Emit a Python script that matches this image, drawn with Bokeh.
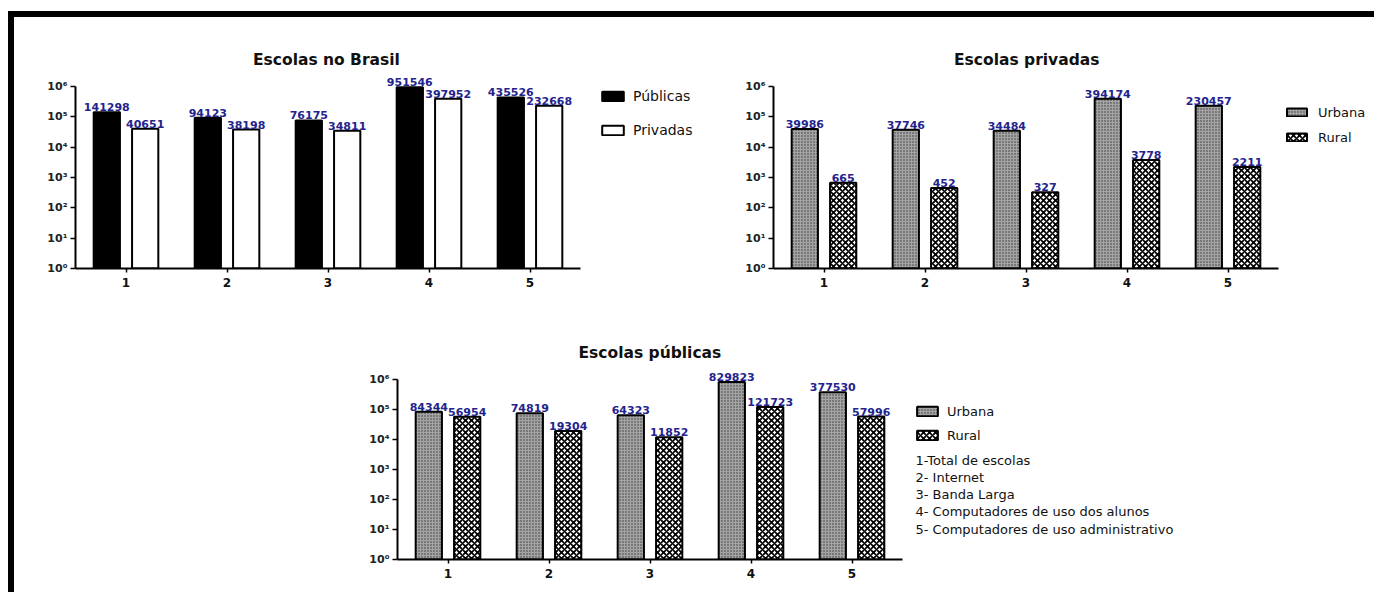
from bokeh.plotting import figure
from bokeh.models import (Range1d, FixedTicker, Legend, LegendItem, Label, Div, Spacer,
                          ColumnDataSource)
from bokeh.layouts import row, column
from bokeh.core.properties import value
from bokeh.embed import file_html
from bokeh.resources import INLINE

# ---------------- data ----------------
categories = [1, 2, 3, 4, 5]
category_labels = ["1", "2", "3", "4", "5"]
y_ticks = [1, 10, 100, 1000, 10000, 100000, 1000000]
y_tick_labels = ["10⁰", "10¹", "10²", "10³", "10⁴", "10⁵", "10⁶"]

brasil_publicas = [141298, 94123, 76175, 951546, 435526]
brasil_privadas = [40651, 38198, 34811, 397952, 232668]
privadas_urbana = [39986, 37746, 34484, 394174, 230457]
privadas_rural = [665, 452, 327, 3778, 2211]
publicas_urbana = [84344, 74819, 64323, 829823, 377530]
publicas_rural = [56954, 19304, 11852, 121723, 57996]

notes = ["1-Total de escolas", "2- Internet", "3- Banda Larga",
         "4- Computadores de uso dos alunos", "5- Computadores de uso administrativo"]

FONT = "DejaVu Sans"
LABEL_COLOR = "#23238e"
BAR_W = 0.26
OFF = 0.19
DATA_W = 505  # pixels spanned by the five categories (0.5 .. 5.5)

STYLE = {
    "black": dict(fill_color="black"),
    "white": dict(fill_color="white"),
    "urbana": dict(fill_color="#a4a4a4", hatch_pattern="dot", hatch_scale=3,
                   hatch_weight=1, hatch_color="#383838"),
    "rural": dict(fill_color="white", hatch_pattern="diagonal_cross", hatch_scale=6,
                  hatch_weight=1.7, hatch_color="black"),
}


def make_chart(title, title_w, a_vals, b_vals, names, styles, width, height, borders,
               data_h, leg, font_leg):
    mbl, mbr, mbt, mbb = borders
    frame_w = width - mbl - mbr
    frame_h = height - mbt - mbb
    x_end = 0.5 + 5.0 * frame_w / DATA_W
    y_end = 10 ** (6.0 * frame_h / data_h)
    p = figure(width=width, height=height, y_axis_type="log",
               x_range=Range1d(0.5, x_end), y_range=Range1d(1, y_end),
               output_backend="svg", toolbar_location=None,
               min_border_left=mbl, min_border_right=mbr,
               min_border_top=mbt, min_border_bottom=mbb)
    p.outline_line_color = None
    p.xgrid.visible = False
    p.ygrid.visible = False
    p.background_fill_color = "white"
    p.border_fill_color = "white"

    p.title.text = title
    p.title.align = "left"
    p.title.offset = DATA_W / 2 - title_w / 2
    p.title.text_font = FONT
    p.title.text_font_style = "bold"
    p.title.text_font_size = "15.5px"
    p.title.text_color = "#111111"
    p.title.standoff = 0

    renderers = []
    for vals, off, st in ((a_vals, -OFF, styles[0]), (b_vals, OFF, styles[1])):
        src = ColumnDataSource(dict(x=[c + off for c in categories], top=vals,
                                    txt=[str(v) for v in vals]))
        r = p.vbar(x="x", top="top", bottom=1, width=BAR_W, source=src,
                   line_color="black", line_width=2, **STYLE[st])
        renderers.append(r)
        p.text(x="x", y="top", text="txt", source=src, text_align="center",
               text_baseline="alphabetic", y_offset=-5,
               text_font=value(FONT), text_font_style="bold",
               text_font_size="11px", text_color=LABEL_COLOR)

    # axes
    for ax in (p.xaxis[0], p.yaxis[0]):
        ax.axis_line_color = "black"
        ax.axis_line_width = 2
        ax.major_tick_line_color = "black"
        ax.major_tick_line_width = 1.5
        ax.major_tick_in = 0
        ax.minor_tick_line_color = None
        ax.major_label_text_font = FONT
        ax.major_label_text_font_style = "bold"
    p.xaxis.bounds = (0.5, 5.5)
    p.xaxis.ticker = FixedTicker(ticks=categories, minor_ticks=[])
    p.xaxis.major_label_overrides = {c: l for c, l in zip(categories, category_labels)}
    p.xaxis.major_tick_out = 4
    p.xaxis.major_label_text_font_size = "12px"
    p.xaxis.major_label_text_color = "#111111"
    p.xaxis.major_label_standoff = 5

    p.yaxis.bounds = (1, 1e6)
    p.yaxis.ticker = FixedTicker(ticks=y_ticks, minor_ticks=[])
    p.yaxis.major_label_overrides = {t: l for t, l in zip(y_ticks, y_tick_labels)}
    p.yaxis.major_tick_out = 5
    p.yaxis.major_label_text_font_size = "11px"
    p.yaxis.major_label_text_color = "#222222"
    p.yaxis.major_label_standoff = 3

    loc, gw, gh, lh, sp, so = leg
    legend = Legend(items=[LegendItem(label=names[0], renderers=[renderers[0]]),
                           LegendItem(label=names[1], renderers=[renderers[1]])],
                    location=loc, orientation="vertical", padding=0, margin=0,
                    spacing=sp, glyph_width=gw, glyph_height=gh, label_height=lh,
                    label_standoff=so, label_text_font=FONT,
                    label_text_font_size=font_leg, label_text_color="#111111",
                    border_line_color=None, background_fill_alpha=0)
    p.add_layout(legend)
    return p


f1 = make_chart("Escolas no Brasil", 150, brasil_publicas, brasil_privadas,
                ["Públicas", "Privadas"], ("black", "white"),
                696, 304, (61, 5, 51, 53), 182,
                ((524, 128), 27, 12, 20, 14, 7), "14px")
f2 = make_chart("Escolas privadas", 144, privadas_urbana, privadas_rural,
                ["Urbana", "Rural"], ("urbana", "rural"),
                664, 304, (63, 5, 51, 53), 182,
                ((511, 121), 25, 10, 20, 5, 9), "13px")
f3 = make_chart("Escolas públicas", 143, publicas_urbana, publicas_rural,
                ["Urbana", "Rural"], ("urbana", "rural"),
                858, 271, (61, 5, 40, 33), 180,
                ((517, 115), 26, 12, 18, 6, 7), "13px")

f3.add_layout(Label(x=518, y=107, x_units="screen", y_units="screen",
                    text="\n".join(notes), text_font=FONT, text_font_size="13px",
                    text_line_height=1.15, text_baseline="top", text_align="left",
                    text_color="#111111"))

top_bar = Div(width=1366, height=6, margin=0, styles={"background-color": "black"})
left_bar = Div(width=6, height=575, margin=0, styles={"background-color": "black"})

layout = column(
    Spacer(height=11, margin=0),
    row(Spacer(width=8, margin=0), top_bar),
    row(Spacer(width=8, margin=0), left_bar,
        column(row(f1, f2), row(Spacer(width=322, margin=0), f3))),
)

open("out.html", "w").write(file_html(layout, INLINE))
